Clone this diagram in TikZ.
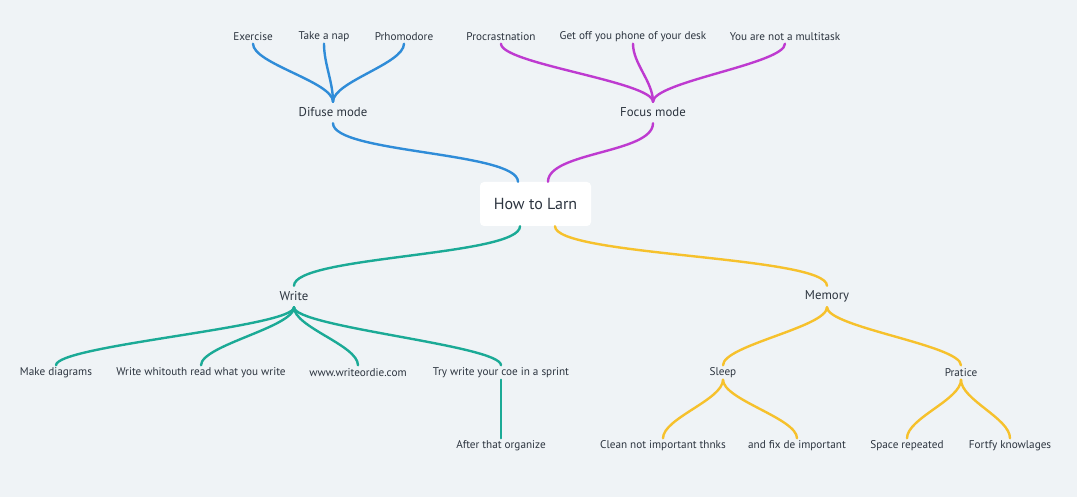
\documentclass[tikz,border=0pt]{standalone}
\usepackage{fontspec}
\setmainfont{PT Sans}
\usetikzlibrary{positioning}
\definecolor{bgc}{RGB}{239,243,246}
\definecolor{ink}{RGB}{44,52,63}
\definecolor{cdif}{RGB}{47,140,216}
\definecolor{cfoc}{RGB}{190,58,208}
\definecolor{cwri}{RGB}{27,170,150}
\definecolor{cmem}{RGB}{246,193,44}
\tikzset{
	leaf/.style={font=\fontsize{11.2}{13}\selectfont, text=ink, inner sep=0pt, minimum height=14pt},
	mid/.style={font=\fontsize{12.8}{15}\selectfont, text=ink, inner sep=0pt, minimum height=21pt},
	root/.style={font=\fontsize{16}{18}\selectfont, text=ink, fill=white, rounded corners=4pt, minimum width=111pt, minimum height=44pt, inner sep=0pt},
	wire/.style={line width=2.4pt, line cap=round},
	goup/.style={out=90, in=-90, distance=#1},
	godown/.style={out=-90, in=90, distance=#1}
}
\begin{document}
\begin{tikzpicture}[x=1pt, y=1pt]
			\fill[bgc] (0,0) rectangle (1077,-497);
			\useasboundingbox (0,0) rectangle (1077,-497);

			\node[root] (r) at (535.5,-204) {How to Larn};

			\node[mid] (dif) at (333,-112.5) {Difuse mode};
			\node[mid] (foc) at (653,-112.5) {Focus mode};
			\node[mid] (wri) at (294,-296.5) {Write};
			\node[mid] (mem) at (827,-296.5) {Memory};

			\node[leaf] (ex)  at (253,-36.5) {Exercise};
			\node[leaf] (nap) at (324,-36.5) {Take a nap};
			\node[leaf] (pho) at (404,-36.5) {Prhomodore};
			\node[leaf] (pro) at (501,-36.5) {Procrastnation};
			\node[leaf] (get) at (633,-36.5) {Get off you phone of your desk};
			\node[leaf] (mul) at (785,-36.5) {You are not a multitask};

			\node[leaf] (dia) at (56,-372.5)  {Make diagrams};
			\node[leaf] (wwr) at (201,-372.5) {Write whitouth read what you write};
			\node[leaf] (wod) at (358,-372.5) {www.writeordie.com};
			\node[leaf] (spr) at (501,-372.5) {Try write your coe in a sprint};
			\node[leaf] (org) at (501,-445.5) {After that organize};

			\node[leaf] (slp) at (723,-372.5) {Sleep};
			\node[leaf] (pra) at (961,-372.5) {Pratice};
			\node[leaf] (cln) at (663,-445.5) {Clean not important thnks};
			\node[leaf] (fix) at (797,-445.5) {and fix de important};
			\node[leaf] (spc) at (907,-445.5) {Space repeated};
			\node[leaf] (fty) at (1010,-445.5) {Fortfy knowlages};

			\path[wire, draw=cdif] ([xshift=-17.5pt]r.north) edge[goup=30pt] (dif.south)
				(dif.north) edge[goup=20pt] (ex.south)
				            edge[goup=20pt] (nap.south)
				            edge[goup=20pt] (pho.south);

			\path[wire, draw=cfoc] ([xshift=12.5pt]r.north) edge[goup=30pt] (foc.south)
				(foc.north) edge[goup=20pt] (pro.south)
				            edge[goup=20pt] (get.south)
				            edge[goup=20pt] (mul.south);

			\path[wire, draw=cwri] ([xshift=-15.5pt]r.south) edge[godown=30pt] (wri.north)
				(wri.south) edge[godown=20pt] (dia.north)
				            edge[godown=20pt] (wwr.north)
				            edge[godown=20pt] (wod.north)
				            edge[godown=20pt] (spr.north)
				(spr.south) edge (org.north);

			\path[wire, draw=cmem] ([xshift=19.5pt]r.south) edge[godown=30pt] (mem.north)
				(mem.south) edge[godown=20pt] (slp.north)
				            edge[godown=20pt] (pra.north)
				(slp.south) edge[godown=20pt] (cln.north)
				            edge[godown=20pt] (fix.north)
				(pra.south) edge[godown=20pt] (spc.north)
				            edge[godown=20pt] (fty.north);

\end{tikzpicture}
\end{document}
